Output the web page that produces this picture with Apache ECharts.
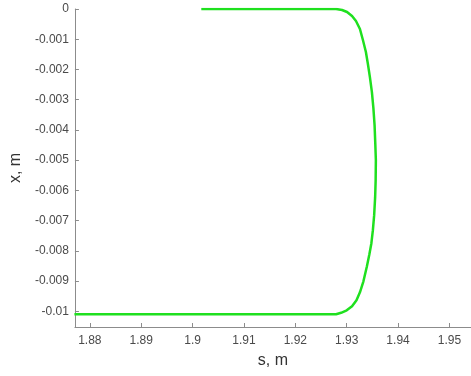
<!DOCTYPE html>
<html>
<head>
<meta charset="utf-8">
<script src="https://cdn.jsdelivr.net/npm/echarts@6/dist/echarts.min.js"></script>
<style>html,body{margin:0;padding:0;background:#fff;}#c{width:471px;height:376px;}</style>
</head>
<body>
<div id="c"></div>
<script>
// trajectory: s (m) and x (m)
const sValues = [1.9017, 1.9150, 1.9250, 1.92794, 1.92910, 1.93007, 1.93104, 1.93181, 1.93258, 1.93316, 1.93374, 1.93413, 1.93452, 1.93491, 1.93520, 1.93543, 1.93558, 1.93568, 1.93564, 1.93554, 1.93535, 1.93510, 1.93481, 1.93442, 1.93394, 1.93326, 1.93258, 1.93191, 1.93104, 1.93001, 1.92891, 1.92794, 1.9250, 1.9000, 1.8770];
const xValues = [0, 0, 0, 0, -0.000033, -0.000099, -0.000232, -0.000397, -0.000662, -0.001026, -0.001424, -0.001821, -0.002252, -0.002748, -0.003278, -0.003841, -0.004503, -0.005, -0.005662, -0.006225, -0.006821, -0.007318, -0.007748, -0.008113, -0.00851, -0.009007, -0.009371, -0.009636, -0.009834, -0.009967, -0.01005, -0.0101, -0.0101, -0.0101, -0.0101];
const xAxisRange = [1.8771, 1.9542];
const yAxisRange = [-0.01052, 0];

const data = sValues.map((s, i) => [s, xValues[i]]);
const fmt = v => String(parseFloat(v.toFixed(4)));

const chart = echarts.init(document.getElementById('c'));
chart.setOption({
  animation: false,
  grid: { left: 73, right: 0, top: 9, bottom: 49, containLabel: false },
  xAxis: {
    type: 'value', min: xAxisRange[0], max: xAxisRange[1], splitNumber: 8,
    name: 's, m', nameLocation: 'middle', nameGap: 26,
    nameTextStyle: { fontFamily: 'Liberation Sans', fontSize: 16, color: '#333' },
    axisLine: { onZero: false, lineStyle: { color: '#8c8c8c', width: 1 } },
    axisTick: { inside: true, length: 4, lineStyle: { color: '#8c8c8c' } },
    axisLabel: { showMinLabel: false, showMaxLabel: false, margin: 8, fontFamily: 'Liberation Sans', fontSize: 12, color: '#4a4a4a', formatter: fmt },
    splitLine: { show: false }
  },
  yAxis: {
    type: 'value', min: yAxisRange[0], max: yAxisRange[1], splitNumber: 10,
    name: 'x, m', nameLocation: 'middle', nameGap: 45,
    nameTextStyle: { fontFamily: 'Liberation Sans', fontSize: 16, color: '#333' },
    axisLine: { show: true, onZero: false, lineStyle: { color: '#8c8c8c', width: 1 } },
    axisTick: { show: true, inside: true, length: 4, lineStyle: { color: '#8c8c8c' } },
    axisLabel: { showMinLabel: false, margin: 6, fontFamily: 'Liberation Sans', fontSize: 12, color: '#4a4a4a', formatter: fmt },
    splitLine: { show: false }
  },
  series: [{
    type: 'line', data: data, smooth: false, showSymbol: false,
    lineStyle: { color: '#1fe01f', width: 2.5, join: 'round' }, clip: true
  }]
});
</script>
</body>
</html>
